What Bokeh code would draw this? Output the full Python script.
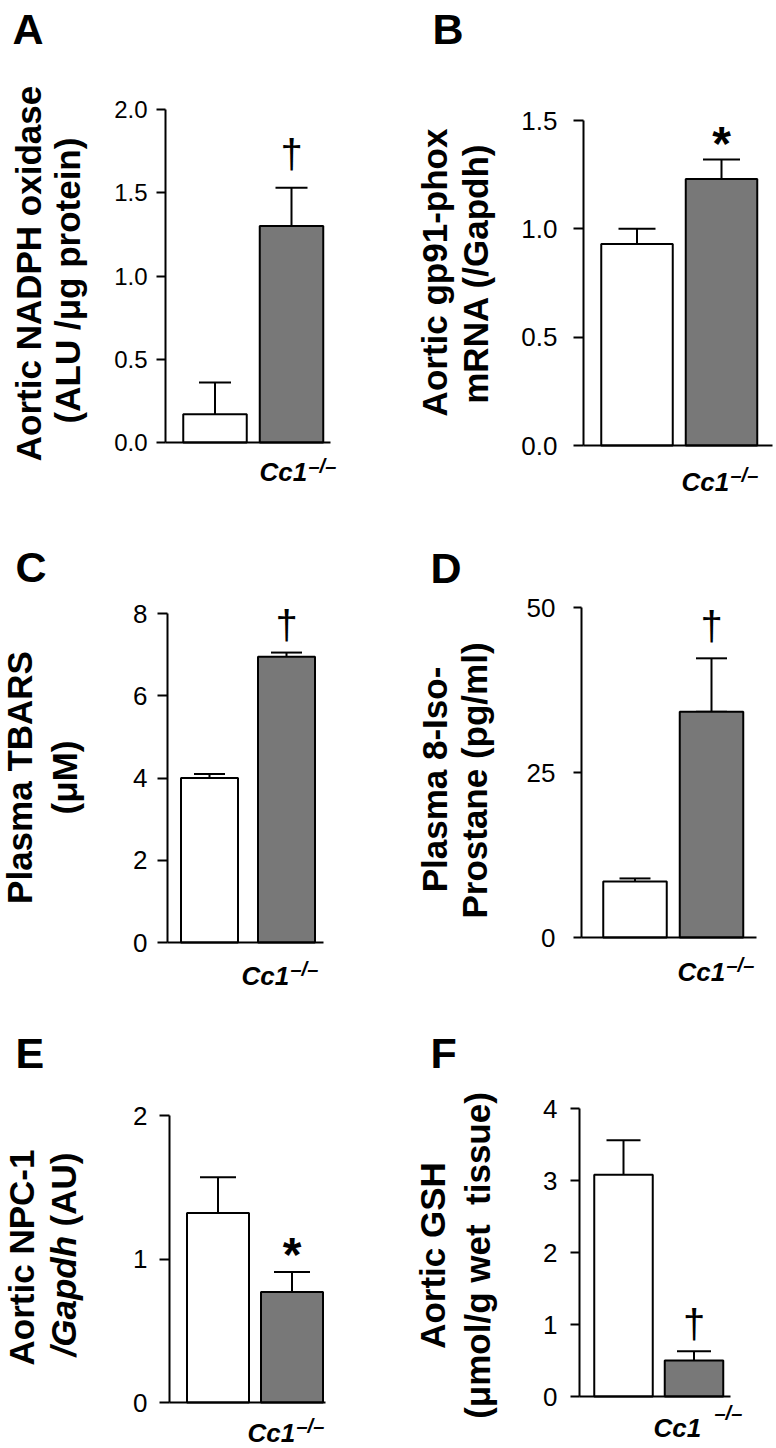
import math
from bokeh.plotting import figure
from bokeh.models import Range1d, FixedTicker, Label, Whisker, TeeHead, ColumnDataSource
from bokeh.layouts import column, row
from bokeh.embed import file_html
from bokeh.resources import INLINE
from bokeh.core.properties import value

FONT = "Liberation Sans"

# ---------------- data ----------------
groups = ["WT", "Cc1-/-"]
bar_fill = ["#ffffff", "#787878"]
genotype_label = ["Cc1", "\u2013/\u2013"]

# A: aortic NADPH oxidase
a_mean = [0.17, 1.30]
a_err = [0.19, 0.23]
a_ticks = [0.0, 0.5, 1.0, 1.5, 2.0]
a_tick_labels = ["0.0", "0.5", "1.0", "1.5", "2.0"]
a_marks = ["", "\u2020"]
a_ylabel = ["Aortic NADPH oxidase", "(ALU /\u03bcg protein)"]

# B: aortic gp91-phox mRNA
b_mean = [0.93, 1.23]
b_err = [0.07, 0.09]
b_ticks = [0.0, 0.5, 1.0, 1.5]
b_tick_labels = ["0.0", "0.5", "1.0", "1.5"]
b_marks = ["", "*"]
b_ylabel = ["Aortic gp91-phox", "mRNA (/Gapdh)"]

# C: plasma TBARS
c_mean = [4.0, 6.95]
c_err = [0.1, 0.1]
c_ticks = [0, 2, 4, 6, 8]
c_tick_labels = ["0", "2", "4", "6", "8"]
c_marks = ["", "\u2020"]
c_ylabel = ["Plasma TBARS", "(\u03bcM)"]

# D: plasma 8-iso-prostane
d_mean = [8.5, 34.2]
d_err = [0.45, 8.1]
d_err_low = [0.45, 0.0]
d_ticks = [0, 25, 50]
d_tick_labels = ["0", "25", "50"]
d_marks = ["", "\u2020"]
d_ylabel = ["Plasma 8-Iso-", "Prostane (pg/ml)"]

# E: aortic NPC-1
e_mean = [1.32, 0.77]
e_err = [0.25, 0.14]
e_ticks = [0, 1, 2]
e_tick_labels = ["0", "1", "2"]
e_marks = ["", "*"]
e_ylabel = ["Aortic NPC-1", "/Gapdh", "(AU)"]

# F: aortic GSH
f_mean = [3.08, 0.50]
f_err = [0.48, 0.13]
f_ticks = [0, 1, 2, 3, 4]
f_tick_labels = ["0", "1", "2", "3", "4"]
f_marks = ["", "\u2020"]
f_ylabel = ["Aortic GSH", "(\u03bcmol/g wet\u00a0 tissue)"]

# ---------------- layout (page pixels) ----------------
panels = [
    dict(letter="A", mean=a_mean, err=a_err, err_low=None, ticks=a_ticks, tl=a_tick_labels, marks=a_marks,
         fig=(0, 0, 388, 500), frame=(165, 330, 109, 442), centers=(214.5, 291), barw=63.5, cap=32,
         tfont=24, standoff=9, tlen=9, lpos=(12, 28),
         ylab=[(a_ylabel[0], 28, 273, "bold", "center"), (a_ylabel[1], 67, 280, "bold", "center")],
         cc1=(259, 471), sup=(308, 465), moff=35),
    dict(letter="B", mean=b_mean, err=b_err, err_low=None, ticks=b_ticks, tl=b_tick_labels, marks=b_marks,
         fig=(388, 0, 388, 500), frame=(583, 772, 120, 445), centers=(636.5, 721), barw=71.5, cap=37,
         tfont=26, standoff=16, tlen=10, lpos=(432, 28),
         ylab=[(b_ylabel[0], 434, 272, "bold", "center"), (b_ylabel[1], 475, 273, "bold", "center")],
         cc1=(681, 481), sup=(730, 474), moff=25.5),
    dict(letter="C", mean=c_mean, err=c_err, err_low=None, ticks=c_ticks, tl=c_tick_labels, marks=c_marks,
         fig=(0, 500, 388, 490), frame=(167, 323, 613, 942), centers=(209, 286), barw=57, cap=31,
         tfont=26, standoff=10, tlen=10, lpos=(15, 566),
         ylab=[(c_ylabel[0], 19, 777, "bold", "center"), (c_ylabel[1], 64, 777, "bold", "center")],
         cc1=(241, 975), sup=(290, 968), moff=28.5),
    dict(letter="D", mean=d_mean, err=d_err, err_low=d_err_low, ticks=d_ticks, tl=d_tick_labels, marks=d_marks,
         fig=(388, 500, 388, 490), frame=(581, 756, 607, 937), centers=(634.5, 711), barw=63.5, cap=31,
         tfont=26, standoff=18, tlen=8, lpos=(430, 567),
         ylab=[(d_ylabel[0], 434, 779, "bold", "center"), (d_ylabel[1], 474, 780, "bold", "center")],
         cc1=(677, 971), sup=(726, 964), moff=33),
    dict(letter="E", mean=e_mean, err=e_err, err_low=None, ticks=e_ticks, tl=e_tick_labels, marks=e_marks,
         fig=(0, 990, 388, 458), frame=(169, 325, 1115, 1402), centers=(217.5, 291.5), barw=62, cap=36,
         tfont=26, standoff=12, tlen=10, lpos=(15, 1052),
         ylab=[(e_ylabel[0], 21, 1257, "bold", "center"), (e_ylabel[1], 63, 1356, "bold italic", "left"),
               (e_ylabel[2], 63, 1226, "bold", "left")],
         cc1=(247, 1432), sup=(296, 1425), moff=26),
    dict(letter="F", mean=f_mean, err=f_err, err_low=None, ticks=f_ticks, tl=f_tick_labels, marks=f_marks,
         fig=(388, 990, 388, 458), frame=(579, 730, 1108, 1396), centers=(623, 693.5), barw=58.5, cap=34,
         tfont=26, standoff=13, tlen=9, lpos=(430, 1052),
         ylab=[(f_ylabel[0], 432, 1255, "bold", "center"), (f_ylabel[1], 477, 1255, "bold", "center")],
         cc1=(653, 1427), sup=(714, 1412), moff=28.5),
]


def build(cfg):
    ox, oy, w, h = cfg["fig"]
    L, R, T, B = cfg["frame"]
    c1, c2 = cfg["centers"]
    ymax = float(cfg["ticks"][-1])
    ppu = c2 - c1                     # pixels per x data unit
    ppy = (B - T) / ymax              # pixels per y data unit
    xs0 = 1 - (c1 - ox) / ppu
    xs1 = xs0 + w / ppu
    ys0 = -(oy + h - B) / ppy
    ys1 = (B - oy) / ppy

    def to_data(px, py):
        return xs0 + (px - ox) / ppu, (B - py) / ppy

    p = figure(width=w, height=h, x_range=Range1d(xs0, xs1), y_range=Range1d(ys0, ys1),
               output_backend="svg", toolbar_location=None, min_border=0)
    p.outline_line_color = None
    p.grid.visible = False
    p.background_fill_color = "white"
    p.border_fill_color = "white"

    ax_x = to_data(L, 0)[0]
    right_x = to_data(R, 0)[0]

    # y axis, drawn at the axis position inside the full-size frame
    ya = p.yaxis[0]
    ya.fixed_location = ax_x
    ya.bounds = (0, ymax)
    ya.ticker = FixedTicker(ticks=cfg["ticks"])
    ya.major_label_overrides = {float(t): s for t, s in zip(cfg["ticks"], cfg["tl"])}
    ya.axis_line_width = 2
    ya.axis_line_color = "black"
    ya.major_tick_line_width = 2
    ya.major_tick_line_color = "black"
    ya.major_tick_out = cfg["tlen"]
    ya.major_tick_in = 0
    ya.minor_tick_line_color = None
    ya.major_label_standoff = cfg["standoff"]
    ya.major_label_text_font = FONT
    ya.major_label_text_font_size = f"{cfg['tfont']}px"
    ya.major_label_text_color = "black"

    # x axis = baseline only
    xa = p.xaxis[0]
    xa.fixed_location = 0
    xa.bounds = (ax_x, right_x)
    xa.ticker = FixedTicker(ticks=[])
    xa.axis_line_width = 2
    xa.axis_line_color = "black"
    xa.major_tick_line_color = None
    xa.minor_tick_line_color = None
    xa.major_tick_out = 0
    xa.major_label_standoff = 0
    xa.major_label_text_font_size = "0px"

    xs = [1, 2]
    bw = cfg["barw"] / ppu
    p.vbar(x=xs, top=cfg["mean"], width=bw, bottom=0, fill_color=bar_fill,
           line_color="black", line_width=2)

    upper = [m + e for m, e in zip(cfg["mean"], cfg["err"])]
    if cfg["err_low"] is not None:
        lower = [m - e for m, e in zip(cfg["mean"], cfg["err_low"])]
        lhead = TeeHead(size=cfg["cap"], line_width=2, line_color="black")
    else:
        lower = list(cfg["mean"])
        lhead = None
    src = ColumnDataSource(dict(x=xs, upper=upper, lower=lower))
    wk = Whisker(source=src, base="x", upper="upper", lower="lower", dimension="height",
                 line_width=2, line_color="black",
                 upper_head=TeeHead(size=cfg["cap"], line_width=2, line_color="black"),
                 lower_head=lhead)
    p.add_layout(wk)

    # significance marks
    is_star = "*" in cfg["marks"]
    if is_star:
        fs, style, yoff = 48, "bold", -(cfg["moff"] - 9)
    else:
        fs, style, yoff = 40, "normal", -(cfg["moff"] - 1)
    p.text(x=xs, y=upper, text=cfg["marks"], text_font=value(FONT), text_font_size=f"{fs}px",
           text_font_style=style, text_align="center", text_baseline="middle",
           y_offset=yoff, text_color="black")

    # panel letter
    lx, ly = to_data(*cfg["lpos"])
    p.add_layout(Label(x=lx, y=ly, text=cfg["letter"], text_font=FONT, text_font_size="43px",
                       text_font_style="bold", text_align="left", text_baseline="middle",
                       text_color="black"))

    # y labels (rotated)
    for txt, px, py, st, al in cfg["ylab"]:
        dx, dy = to_data(px, py)
        p.add_layout(Label(x=dx, y=dy, text=txt, angle=math.pi / 2, text_font=FONT,
                           text_font_size="35px", text_font_style=st, text_align=al,
                           text_baseline="middle", text_color="black"))

    # genotype label
    gx, gy = to_data(*cfg["cc1"])
    p.add_layout(Label(x=gx, y=gy, text=genotype_label[0], text_font=FONT, text_font_size="26px",
                       text_font_style="bold italic", text_align="left",
                       text_baseline="alphabetic", text_color="black"))
    sx, sy = to_data(*cfg["sup"])
    p.add_layout(Label(x=sx, y=sy, text=genotype_label[1], text_font=FONT, text_font_size="20px",
                       text_font_style="bold italic", text_align="left",
                       text_baseline="alphabetic", text_color="black"))
    return p


figs = [build(c) for c in panels]
layout = column(row(figs[0], figs[1]), row(figs[2], figs[3]), row(figs[4], figs[5]))
open("out.html", "w").write(file_html(layout, INLINE))
